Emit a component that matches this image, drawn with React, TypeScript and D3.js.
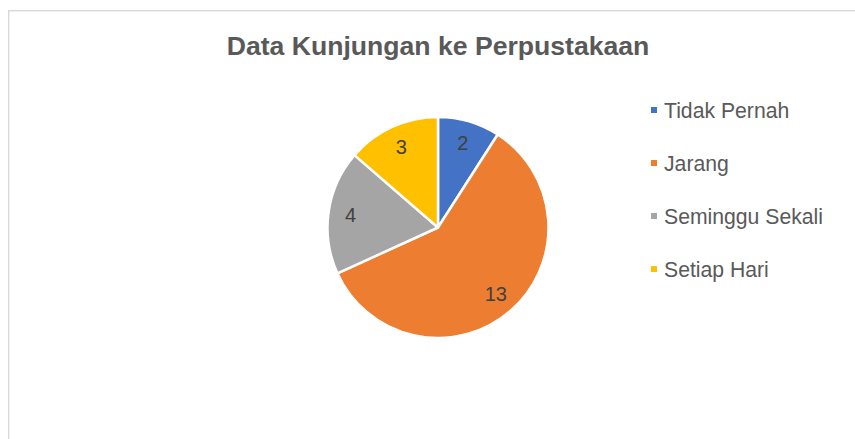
import React from "react";
import * as d3 from "d3";

const categories = ["Tidak Pernah", "Jarang", "Seminggu Sekali", "Setiap Hari"];
const values = [2, 13, 4, 3];
const colors = ["#4472C4", "#ED7D31", "#A5A5A5", "#FFC000"];
const title = "Data Kunjungan ke Perpustakaan";

const W = 855;
const H = 439;
const FONT = "'Liberation Sans', Arial, Helvetica, sans-serif";

export default function App() {
  const cx = 438;
  const cy = 227.5;
  const R = 110.5;
  const pie = d3.pie<number>().sort(null).value((d) => d)(values);
  const arc = d3.arc<d3.PieArcDatum<number>>().innerRadius(0).outerRadius(R);
  const labelArc = d3.arc<d3.PieArcDatum<number>>().innerRadius(R * 0.8).outerRadius(R * 0.8);
  const legendY = d3.scalePoint<string>().domain(categories).range([110, 269]);

  return (
    <svg width={W} height={H} style={{ position: "absolute", left: 0, top: 0, background: "#fff" }} fontFamily={FONT}>
      <rect x={8.7} y={10.7} width={900} height={500} fill="#fff" stroke="#d9d9d9" strokeWidth={1.4} />
      <text x={cx} y={55} textAnchor="middle" fontSize={26.6} fontWeight="bold" fill="#595959">
        {title}
      </text>
      <g transform={`translate(${cx},${cy})`}>
        {pie.map((p, i) => (
          <path key={i} d={arc(p) || ""} fill={colors[i]} stroke="#fff" strokeWidth={2.5} strokeLinejoin="round" />
        ))}
        {pie.map((p, i) => {
          const [x, y] = labelArc.centroid(p);
          return (
            <text key={"l" + i} x={x} y={y + 7} textAnchor="middle" fontSize={20} fill="#404040">
              {values[i]}
            </text>
          );
        })}
      </g>
      {categories.map((c, i) => {
        const y = legendY(c) as number;
        return (
          <g key={c}>
            <rect x={651} y={y - 3} width={6} height={6} fill={colors[i]} />
            <text x={664} y={y + 7.5} fontSize={21.2} fill="#595959">
              {c}
            </text>
          </g>
        );
      })}
    </svg>
  );
}
